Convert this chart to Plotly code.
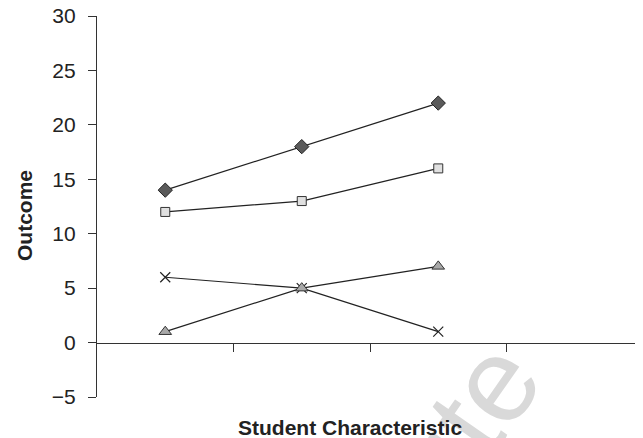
import plotly.graph_objects as go

categories = [1, 2, 3]
series_diamond = [14, 18, 22]
series_square = [12, 13, 16]
series_x = [6, 5, 1]
series_triangle = [1, 5, 7]
y_ticks = [-5, 0, 5, 10, 15, 20, 25, 30]
y_tick_labels = ["\u22125", "0", "5", "10", "15", "20", "25", "30"]
x_ticks = [1.5, 2.5, 3.5]

# page has an 8px body margin; work in page pixel coordinates
OFF = 8
W, H = 643 - OFF, 438 - OFF
L, R, T, B = 97 - OFF, 0, 16 - OFF, 41

fig = go.Figure()
line = dict(color="#222222", width=1.2)
fig.add_trace(go.Scatter(x=categories, y=series_diamond, mode="lines+markers", line=line,
                         marker=dict(symbol="diamond", size=11, color="#5a5a5a",
                                     line=dict(color="#222222", width=1))))
fig.add_trace(go.Scatter(x=categories, y=series_square, mode="lines+markers", line=line,
                         marker=dict(symbol="square", size=9, color="#e0e0e0",
                                     line=dict(color="#333333", width=1))))
fig.add_trace(go.Scatter(x=categories, y=series_x, mode="lines+markers", line=line,
                         marker=dict(symbol="x-thin", size=10, color="#222222",
                                     line=dict(color="#222222", width=1.2))))
fig.add_trace(go.Scatter(x=categories, y=series_triangle, mode="lines+markers", line=line,
                         marker=dict(symbol="triangle-up", size=11, color="#a8a8a8",
                                     line=dict(color="#333333", width=1))))

pw = W - L - R
ph = H - T - B

def px_to_paper(xp, yp):
    xp -= OFF
    yp -= OFF
    return (xp - L) / pw, (H - B - yp) / ph

wx, wy = px_to_paper(464, 424)
ox, oy = px_to_paper(24, 216)
sx, sy = px_to_paper(350, 427)

fig.update_layout(
    width=W, height=H,
    margin=dict(l=L, r=R, t=T, b=B, autoexpand=False),
    paper_bgcolor="white", plot_bgcolor="white",
    showlegend=False,
    font=dict(family="Liberation Sans, Arial, sans-serif", color="#222222"),
    xaxis=dict(range=[0.5, 4.5], anchor="free", position=5 / 35, automargin=False,
               showline=True, linecolor="#333333", linewidth=1.2,
               ticks="outside", ticklen=8, tickcolor="#333333", tickwidth=1.2,
               tickvals=x_ticks, showticklabels=False, showgrid=False, zeroline=False),
    yaxis=dict(range=[-5, 30], showline=True, linecolor="#333333", linewidth=1.2,
               ticks="outside", ticklen=8, tickcolor="#333333", tickwidth=1.2,
               tickvals=y_ticks, ticktext=y_tick_labels, tickfont=dict(size=21),
               ticklabelstandoff=8, ticklabeloverflow="allow", automargin=False,
               showgrid=False, zeroline=False),
    annotations=[
        dict(text="ute", x=wx, y=wy, xref="paper", yref="paper", showarrow=False,
             textangle=-55, font=dict(size=120, color="#d9d9d9", family="Liberation Sans, Arial"),
             xanchor="center", yanchor="middle"),
        dict(text="<b>Outcome</b>", x=ox, y=oy, xref="paper", yref="paper", showarrow=False,
             textangle=-90, font=dict(size=21), xanchor="center", yanchor="middle"),
        dict(text="<b>Student Characteristic</b>", x=sx, y=sy, xref="paper", yref="paper",
             showarrow=False, font=dict(size=21), xanchor="center", yanchor="middle"),
    ],
)

fig.write_html("out.html")
